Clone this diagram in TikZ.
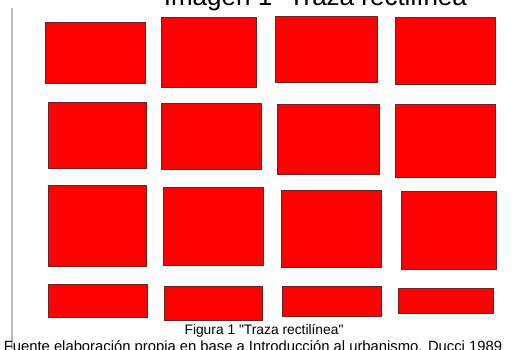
\documentclass[tikz,border=0pt]{standalone}
\usepackage{fontspec}
\setmainfont{Liberation Sans}
\definecolor{manzanarojo}{RGB}{255,0,0}
\definecolor{bordeoscuro}{RGB}{110,35,35}
\definecolor{lineagris}{RGB}{185,185,185}
\tikzset{manzana/.style={fill=manzanarojo, draw=bordeoscuro, line width=0.8pt}}
\begin{document}
\begin{tikzpicture}[x=1pt, y=-1pt]
            \useasboundingbox (0,0) rectangle (526,349);
            \clip (0,0) rectangle (526,349);
            \fill[white] (0,0) rectangle (526,349);

            \draw[lineagris, line width=1.5pt] (12,8) -- (12,349);

            % manzanas, fila por fila
            \foreach \xa/\ya/\xb/\yb in {45/22/145/83, 161/17/256/87, 275/16/377/82, 395/17/495/84,
                                         48/102/146/168, 161/103/261/169, 277/104/379/174, 395/104/495/177,
                                         48/185/146/266, 163/187/263/265, 281/190/381/267, 401/191/496/269,
                                         48/284/147/317, 164/286/262/320, 282/286/381/316, 398/288/493/313}
                \draw[manzana] (\xa,\ya) rectangle (\xb,\yb);

            \node[anchor=base, font=\fontsize{26}{30}\selectfont, inner sep=0pt] (titulo) at (320,5) {Imagen 1 \textquotedbl Traza rectilínea\textquotedbl};
            \node[anchor=base, font=\fontsize{13.8}{16}\selectfont, inner sep=0pt] (figura) at (264,334) {Figura 1 \textquotedbl Traza rectilínea\textquotedbl};
            \node[anchor=base, font=\fontsize{14.8}{17}\selectfont, inner sep=0pt] (fuente) at (253,351) {Fuente elaboración propia en base a Introducción al urbanismo. Ducci 1989};
        \end{tikzpicture}
\end{document}
